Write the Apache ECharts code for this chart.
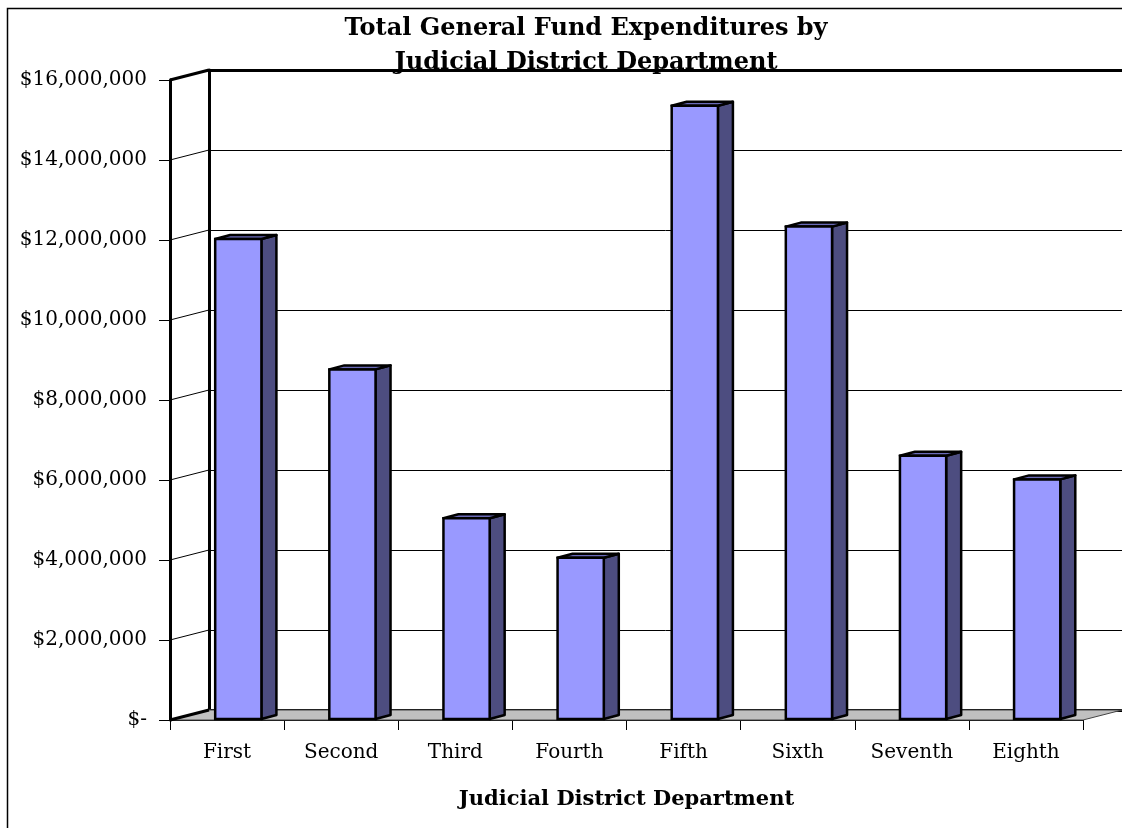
<!DOCTYPE html>
<html>
<head>
<meta charset="utf-8">
<script src="https://cdn.jsdelivr.net/npm/echarts@6/dist/echarts.min.js"></script>
<style>
html,body{margin:0;padding:0;background:#fff;}
#chart{width:1122px;height:828px;}
</style>
</head>
<body>
<div id="chart"></div>
<script>
// ---- data ----
const categories = ['First', 'Second', 'Third', 'Fourth', 'Fifth', 'Sixth', 'Seventh', 'Eighth'];
const expenditures = [12000000, 8740000, 5020000, 4030000, 15330000, 12310000, 6580000, 5990000];
const yTicks = [0, 2000000, 4000000, 6000000, 8000000, 10000000, 12000000, 14000000, 16000000];
const titleText = 'Total General Fund Expenditures by\nJudicial District Department';
const xAxisTitle = 'Judicial District Department';

const FONT = '"DejaVu Serif", "Liberation Serif", serif';
const DX = 39, DY = -10;          // wall depth offset
const BDX = 15, BDY = -4;         // bar depth offset

function money(v) {
  if (v === 0) return '$-';
  return '$' + String(v).replace(/\B(?=(\d{3})+(?!\d))/g, ',');
}

const chart = echarts.init(document.getElementById('chart'), null, {renderer: 'canvas'});

const option = {
  animation: false,
  backgroundColor: '#fff',
  grid: [
    {left: 170, top: 80, width: 913, height: 640},
    {left: 170 + DX, top: 80 + DY, width: 913, height: 640}
  ],
  xAxis: [
    {
      type: 'category', gridIndex: 0, data: categories,
      axisLine: {lineStyle: {color: '#000', width: 1}},
      axisTick: {show: true, length: 10, lineStyle: {color: '#000', width: 1}},
      axisLabel: {color: '#000', fontFamily: FONT, fontSize: 20, margin: 23},
      name: xAxisTitle, nameLocation: 'middle', nameGap: 69,
      nameTextStyle: {color: '#000', fontFamily: FONT, fontSize: 21, fontWeight: 'bold'}
    },
    {
      type: 'category', gridIndex: 1, data: categories, position: 'bottom',
      axisLine: {lineStyle: {color: '#000', width: 3}},
      axisTick: {show: false}, axisLabel: {show: false}
    },
    {
      type: 'category', gridIndex: 1, data: categories, position: 'top',
      axisLine: {lineStyle: {color: '#000', width: 3}},
      axisTick: {show: false}, axisLabel: {show: false}
    }
  ],
  yAxis: [
    {
      type: 'value', gridIndex: 0, min: 0, max: 16000000, interval: 2000000,
      axisLine: {show: true, lineStyle: {color: '#000', width: 3}},
      axisTick: {show: true, length: 11, lineStyle: {color: '#000', width: 1}},
      axisLabel: {color: '#000', fontFamily: FONT, fontSize: 20, margin: 23, formatter: money},
      splitLine: {show: false}
    },
    {
      type: 'value', gridIndex: 1, min: 0, max: 16000000, interval: 2000000,
      axisLine: {show: true, lineStyle: {color: '#000', width: 3}},
      axisTick: {show: false}, axisLabel: {show: false},
      splitLine: {show: true, lineStyle: {color: '#000', width: 1}}
    }
  ],
  graphic: [
    {
      type: 'rect', z: -10, silent: true,
      shape: {x: 7.5, y: 8.5, width: 1300, height: 1000},
      style: {fill: null, stroke: '#000', lineWidth: 1.5}
    },
    {
      type: 'text', z: 100, silent: true, x: 586, y: 12,
      style: {
        text: titleText, align: 'center', verticalAlign: 'top',
        font: 'bold 24px ' + FONT, fill: '#000', lineHeight: 34
      }
    }
  ],
  series: [
    {
      // floor
      type: 'custom', xAxisIndex: 0, yAxisIndex: 0, z: 1, silent: true,
      data: [[0, 0]],
      renderItem: function (params, api) {
        const cs = params.coordSys;
        const y0 = api.coord([0, 0])[1];
        const x0 = cs.x, x1 = cs.x + cs.width;
        return {
          type: 'polygon',
          shape: {points: [[x0, y0], [x1, y0], [x1 + DX, y0 + DY], [x0 + DX, y0 + DY]]},
          style: {fill: '#C0C0C0', stroke: '#444', lineWidth: 1}
        };
      }
    },
    {
      // side wall lines
      type: 'custom', xAxisIndex: 0, yAxisIndex: 0, z: 2, silent: true,
      data: yTicks.map(v => [0, v]),
      renderItem: function (params, api) {
        const cs = params.coordSys;
        const v = api.value(1);
        const y = api.coord([0, v])[1];
        const thick = (v === yTicks[0] || v === yTicks[yTicks.length - 1]);
        return {
          type: 'line',
          shape: {x1: cs.x, y1: y, x2: cs.x + DX, y2: y + DY},
          style: {stroke: '#000', lineWidth: thick ? 3 : 1}
        };
      }
    },
    {
      // bars
      type: 'custom', xAxisIndex: 0, yAxisIndex: 0, z: 5,
      data: expenditures.map((v, i) => [i, v]),
      encode: {x: 0, y: 1},
      renderItem: function (params, api) {
        const i = api.value(0), v = api.value(1);
        const top = api.coord([i, v]);
        const base = api.coord([i, 0]);
        const w = api.size([1, 0])[0];
        const catLeft = top[0] - w / 2;
        const xl = catLeft + w * 0.396, xr = xl + w * 0.405;
        const yt = top[1] - 1, yb = base[1] - 1;
        return {
          type: 'group',
          children: [
            {type: 'polygon', shape: {points: [[xr, yt], [xr + BDX, yt + BDY], [xr + BDX, yb + BDY], [xr, yb]]},
             style: {fill: '#4D4D80', stroke: '#000', lineWidth: 2.5, lineJoin: 'round'}},
            {type: 'polygon', shape: {points: [[xl, yt], [xr, yt], [xr + BDX, yt + BDY], [xl + BDX, yt + BDY]]},
             style: {fill: '#6A6AB8', stroke: '#000', lineWidth: 2.5, lineJoin: 'round'}},
            {type: 'rect', shape: {x: xl, y: yt, width: xr - xl, height: yb - yt},
             style: {fill: '#9999FF', stroke: '#000', lineWidth: 2.5}}
          ]
        };
      }
    }
  ]
};
chart.setOption(option);
</script>
</body>
</html>
